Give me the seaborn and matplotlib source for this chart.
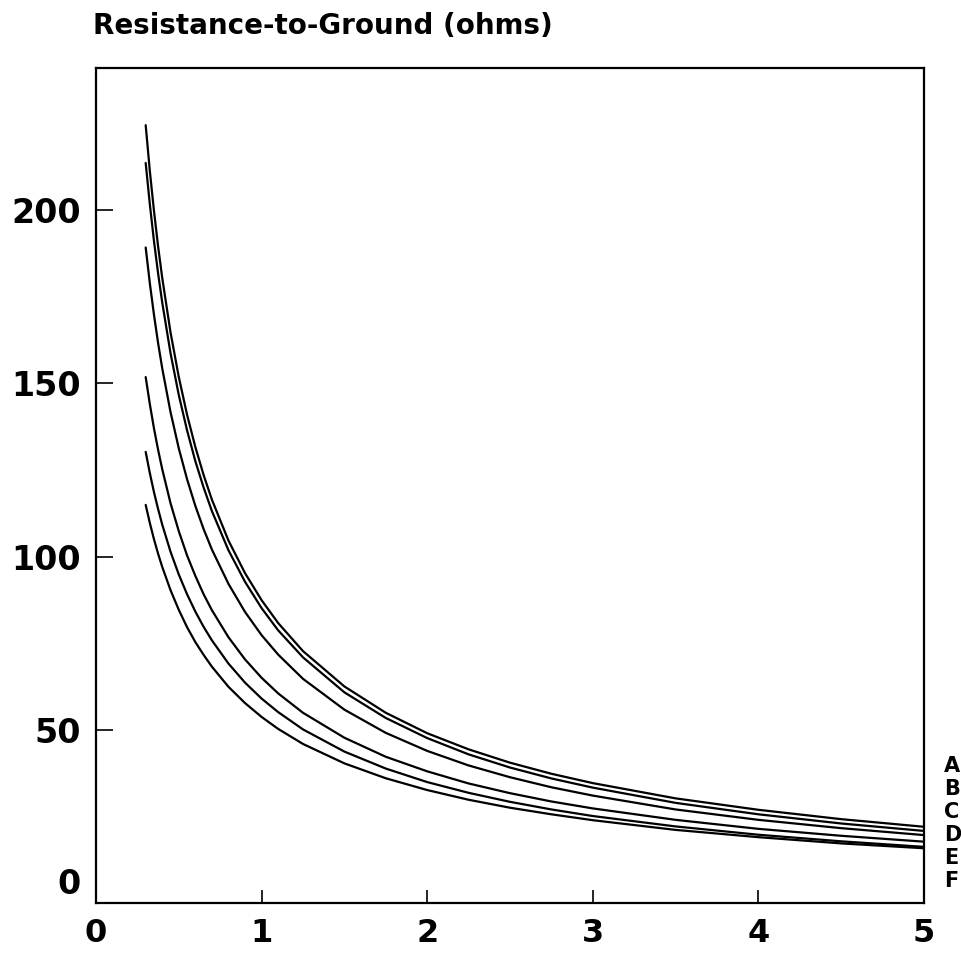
import matplotlib
matplotlib.use("Agg")
import matplotlib.pyplot as plt
import matplotlib.transforms as mtransforms
import seaborn as sns
import pandas as pd

# x positions and resistance values (ohms)
x_vals = [0.3, 0.325, 0.35, 0.375, 0.4, 0.45, 0.5, 0.55, 0.6, 0.65, 0.7, 0.8, 0.9,
          1.0, 1.1, 1.25, 1.5, 1.75, 2.0, 2.25, 2.5, 2.75, 3.0, 3.5, 4.0, 4.5, 5.0]
curve_A = [224.5, 211.3, 199.8, 189.5, 180.4, 164.7, 151.8, 140.9, 131.6, 123.5, 116.4, 104.6, 95.2,
           87.4, 80.8, 72.7, 62.5, 54.9, 49.0, 44.35, 40.5, 37.3, 34.6, 30.2, 26.9, 24.2, 22.0]
curve_B = [213.6, 201.7, 191.1, 181.7, 173.3, 158.7, 146.6, 136.4, 127.5, 119.9, 113.1, 101.8, 92.7,
           85.1, 78.7, 70.9, 60.8, 53.4, 47.6, 42.9, 39.1, 35.95, 33.3, 28.9, 25.6, 22.95, 20.8]
curve_C = [189.2, 178.9, 169.8, 161.6, 154.3, 141.7, 131.2, 122.3, 114.6, 107.9, 102.0, 92.1, 84.0,
           77.3, 71.7, 64.7, 55.8, 49.1, 43.9, 39.7, 36.3, 33.4, 31.0, 27.0, 24.0, 21.6, 19.6]
curve_D = [151.8, 144.0, 137.0, 130.8, 125.2, 115.4, 107.3, 100.3, 94.4, 89.1, 84.5, 76.7, 70.3,
           65.0, 60.5, 54.9, 47.7, 42.2, 38.0, 34.5, 31.7, 29.3, 27.3, 24.0, 21.4, 19.4, 17.7]
curve_E = [130.2, 124.1, 118.6, 113.7, 109.2, 101.4, 94.8, 89.1, 84.1, 79.7, 75.8, 69.1, 63.6,
           59.0, 55.1, 50.1, 43.7, 38.8, 34.9, 31.8, 29.2, 27.0, 25.1, 22.1, 19.7, 17.8, 16.2]
curve_F = [114.9, 109.7, 105.0, 100.8, 97.0, 90.3, 84.6, 79.6, 75.3, 71.6, 68.2, 62.4, 57.7,
           53.7, 50.25, 45.9, 40.3, 36.0, 32.6, 29.8, 27.5, 25.6, 23.9, 21.1, 19.0, 17.2, 15.8]

curve_names = ["A", "B", "C", "D", "E", "F"]
curve_series = [curve_A, curve_B, curve_C, curve_D, curve_E, curve_F]

x_ticks = [0, 1, 2, 3, 4, 5]
y_ticks = [0, 50, 100, 150, 200]
title_text = "Resistance-to-Ground (ohms)"

rows = []
for name, vals in zip(curve_names, curve_series):
    for xv, yv in zip(x_vals, vals):
        rows.append({"x": xv, "R": yv, "curve": name})
df = pd.DataFrame(rows)

sns.set_style("white")
plt.rcParams["font.family"] = ["DejaVu Sans"]
plt.rcParams["font.weight"] = "bold"

W, H = 961, 957
fig = plt.figure(figsize=(W / 100, H / 100), dpi=100)
ax = fig.add_axes([96 / W, 1 - 903 / H, (924 - 96) / W, (903 - 68) / H])

sns.lineplot(data=df, x="x", y="R", hue="curve", palette=["black"] * 6,
             linewidth=1.6, legend=False, ax=ax, sort=True)

ax.set_xlim(0, 5)
ax.set_ylim(0, 241)
ax.set_xticks(x_ticks)
ax.set_yticks(y_ticks)
ax.set_xticklabels([str(t) for t in x_ticks], fontsize=23, fontweight="bold")
ax.set_yticklabels([str(t) for t in y_ticks], fontsize=24, fontweight="bold")
ax.set_xlabel("")
ax.set_ylabel("")
ax.tick_params(axis="both", direction="in", width=1.2, colors="black",
               bottom=True, left=True, top=False, right=False)
ax.tick_params(axis="x", length=9.5, pad=11)
ax.tick_params(axis="y", length=12, pad=11)
for s in ax.spines.values():
    s.set_visible(True)
    s.set_color("black")
    s.set_linewidth(1.6)

# shift the y "0" label upward as in the reference
ylab0 = ax.get_yticklabels()[0]
ylab0.set_transform(ylab0.get_transform() +
                    mtransforms.ScaledTranslation(0, 22 / 100, fig.dpi_scale_trans))

fig.text(93 / W, 1 - 34 / H, title_text, fontsize=20, fontweight="bold",
         ha="left", va="baseline", color="black")

label_y = [766, 789, 812, 835, 858, 881]
for name, yp in zip(curve_names, label_y):
    fig.text(944 / W, 1 - yp / H, name, fontsize=15, fontweight="bold",
             ha="left", va="center", color="black")

fig.savefig("out.png", dpi=100)
